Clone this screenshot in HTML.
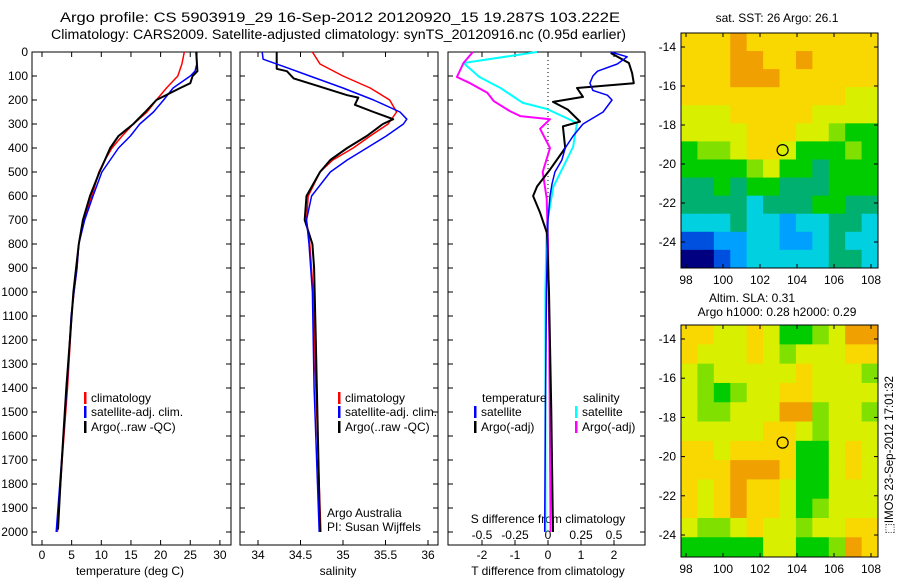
<!DOCTYPE html>
<html><head><meta charset="utf-8"><style>
body{margin:0;background:#fff}
svg{display:block;font-family:"Liberation Sans",sans-serif;font-size:12px}
</style></head><body>
<svg id="c" width="900" height="580" xmlns="http://www.w3.org/2000/svg">
<rect width="900" height="580" fill="#fff"/>
<text x="60" y="22" font-size="13.5" textLength="560" lengthAdjust="spacingAndGlyphs">Argo profile: CS 5903919_29 16-Sep-2012 20120920_15 19.287S 103.222E</text>
<text x="51" y="39" font-size="13.5" textLength="575" lengthAdjust="spacingAndGlyphs">Climatology: CARS2009. Satellite-adjusted climatology: synTS_20120916.nc (0.95d earlier)</text>
<text x="130" y="575" text-anchor="middle">temperature (deg C)</text>
<text x="338" y="575" text-anchor="middle">salinity</text>
<text x="548" y="575" text-anchor="middle">T difference from climatology</text>
<text x="548" y="523" text-anchor="middle">S difference from climatology</text>
<text x="327" y="517">Argo Australia</text>
<text x="327" y="531">PI: Susan Wijffels</text>
<text x="777" y="22" text-anchor="middle">sat. SST: 26 Argo: 26.1</text>
<text x="752" y="302" text-anchor="middle">Altim. SLA: 0.31</text>
<text x="777" y="316" text-anchor="middle">Argo h1000: 0.28 h2000: 0.29</text>
<text transform="translate(893,455) rotate(-90)" text-anchor="middle" font-size="11.5">⬚IMOS 23-Sep-2012 17:01:32</text>
<g id="plots"></g>
</svg>
<script>
// ---- profile data (depth in dbar) ----
const tempClimDepth=[0,50,100,150,200,250,300,350,400,450,500,600,700,800,900,1000,1100,1400,1700,2000];
const tempClim=[24.0,23.6,22.9,21.0,19.3,17.7,15.4,13.5,11.8,10.6,9.6,8.4,7.1,6.2,5.9,5.4,5.0,4.3,3.4,2.6];
const tempSatDepth=[0,50,80,100,150,200,250,300,350,400,450,500,600,700,800,900,1000,1100,1400,1700,2000];
const tempSat=[26.1,26.1,25.8,25.0,22.1,20.5,18.8,16.5,14.9,12.9,11.5,10.1,8.6,7.2,6.2,5.9,5.4,4.9,4.2,3.3,2.4];
const tempArgoDepth=[0,80,100,130,150,200,250,300,350,400,450,500,600,700,800,1000,1200,1400,1600,1800,1990];
const tempArgo=[26.0,26.2,25.4,25.0,23.3,19.3,17.4,15.4,12.9,11.5,10.6,9.7,8.1,6.9,6.2,5.3,4.7,4.1,3.6,3.1,2.7];

const salClimDepth=[0,50,100,150,200,250,300,350,400,450,500,600,700,800,1000,1400,2000];
const salClim=[34.64,34.73,35.0,35.32,35.55,35.63,35.53,35.32,35.12,34.88,34.73,34.59,34.57,34.61,34.65,34.68,34.74];
const salSatDepth=[0,30,60,100,150,200,250,280,300,350,400,450,500,600,700,800,1000,1400,2000];
const salSat=[34.05,34.06,34.3,34.61,35.0,35.36,35.67,35.75,35.71,35.51,35.28,35.05,34.85,34.63,34.57,34.6,34.64,34.66,34.72];
const salArgoDepth=[0,70,80,110,140,180,190,220,250,280,300,350,400,450,500,600,700,800,900,1200,2000];
const salArgo=[34.22,34.22,34.34,34.42,34.69,35.05,35.18,35.14,35.36,35.59,35.47,35.28,35.05,34.85,34.73,34.57,34.55,34.64,34.66,34.68,34.73];

const dTSatDepth=[0,20,50,80,100,130,160,180,200,250,300,350,400,450,500,550,600,700,1000,1500,2000];
const dTSat=[1.9,2.4,2.1,1.5,1.36,1.27,1.36,1.8,1.94,1.67,1.06,0.76,0.52,0.42,0.21,0.12,0.06,0.0,-0.05,-0.08,-0.1];
const dTArgoDepth=[4,46,88,130,150,187,208,240,290,310,400,490,560,600,670,755,1000,1500,2000];
const dTArgo=[1.9,2.45,2.55,2.6,0.88,1.06,0.15,0.6,0.97,0.45,0.52,0.06,-0.33,-0.45,-0.24,-0.03,0.03,0.1,0.15];
const dSSatDepth=[0,46,104,150,212,237,296,395,562,720,1000,2000];
const dSSat=[-0.083,-0.64,-0.52,-0.36,-0.19,-0.01,0.22,0.19,0.04,-0.01,-0.02,-0.02];
const dSArgoDepth=[0,46,104,130,170,205,246,267,280,320,400,500,610,800,1200,2000];
const dSArgo=[-0.57,-0.64,-0.69,-0.59,-0.46,-0.41,-0.29,-0.21,0.015,-0.06,0.015,-0.04,-0.01,0.0,0.01,0.02];

const depthTicks=[0,100,200,300,400,500,600,700,800,900,1000,1100,1200,1300,1400,1500,1600,1700,1800,1900,2000];
const tempTicks=[0,5,10,15,20,25,30];
const salTicks=[34,34.5,35,35.5,36];
const salTickLabels=["34","34.5","35","35.5","36"];
const dTTicks=[-2,-1,0,1,2];
const dSTicks=[-0.5,-0.25,0,0.25,0.5];
const dSTickLabels=["-0.5","-0.25","0","0.25","0.5"];

// ---- map data (levels 0..10) ----
const mapLevelColors=["#000080","#0050e0","#00a0ff","#00d0e0","#00b070","#00cc00","#80e000","#d8f000","#f8d800","#f0a000","#e07000"];
const sstGrid=[
[8,8,8,9,8,8,8,8,8,8,8,8],
[8,8,8,9,9,8,8,9,8,8,8,8],
[8,8,8,9,9,9,8,8,8,8,8,8],
[8,8,8,8,8,8,8,8,8,8,7,7],
[7,7,7,8,8,8,8,8,7,7,7,7],
[7,7,7,7,8,8,8,7,7,6,5,5],
[5,6,6,7,8,8,7,5,5,5,6,5],
[5,5,5,5,6,7,5,5,4,5,5,5],
[4,4,5,4,5,5,4,4,4,5,5,5],
[4,4,4,4,3,4,4,4,5,5,4,4],
[3,3,3,4,3,3,2,3,3,4,4,3],
[1,1,2,2,3,3,2,2,3,4,3,3],
[0,0,1,2,3,3,3,3,3,4,4,3]];
const slaGrid=[
[8,8,7,7,8,7,5,5,6,7,9,9],
[8,7,7,7,8,7,6,7,7,7,8,8],
[7,6,7,7,7,7,7,8,7,7,7,6],
[7,6,5,6,7,7,8,8,7,7,7,7],
[7,6,6,7,7,7,9,9,6,7,7,6],
[7,7,7,7,7,8,8,7,6,7,7,7],
[8,8,7,8,8,8,8,5,5,7,8,7],
[8,8,8,9,9,9,8,5,5,7,8,7],
[8,7,8,9,8,8,7,5,5,7,7,7],
[8,7,8,9,8,8,7,5,6,7,7,7],
[7,6,6,7,8,7,7,6,7,7,8,8],
[5,5,5,5,5,7,7,5,5,6,9,8]];
const lonTicks=[98,100,102,104,106,108];
const latTicks=[-14,-16,-18,-20,-22,-24];
const argoLon=[103.222];
const argoLat=[-19.287];

// ---- helpers ----
const NS="http://www.w3.org/2000/svg";
const G=document.getElementById('plots');
function mk(tag,attrs,parent){const e=document.createElementNS(NS,tag);for(const k in attrs)e.setAttribute(k,attrs[k]);(parent||G).appendChild(e);return e;}
const yTop=52,pxPer100=24;
const yD=d=>yTop+d*pxPer100/100;
const xTemp=t=>42+t*5.93;
const xSal=s=>258+(s-34)*85;
const xDT=v=>548+v*33;
const xDS=v=>548+v*132;
const panels=[{x0:32,x1:231},{x0:240,x1:438},{x0:448,x1:645}];

function line(depths,vals,xf,color,w,name){
  const pts=depths.map((d,i)=>xf(vals[i]).toFixed(1)+","+yD(d).toFixed(1)).join(" ");
  const p=mk('polyline',{points:pts,fill:'none',stroke:color,'stroke-width':w,'stroke-linejoin':'round'});
  
  
}

panels.forEach((p,pi)=>{
  const r=mk('rect',{x:p.x0,y:yTop,width:p.x1-p.x0,height:545-yTop,fill:'none',stroke:'#000','stroke-width':1});
  
  
  depthTicks.forEach(d=>{
    mk('line',{x1:p.x0,x2:p.x0+5,y1:yD(d),y2:yD(d),stroke:'#000'});
    mk('line',{x1:p.x1,x2:p.x1-5,y1:yD(d),y2:yD(d),stroke:'#000'});
  });
});
depthTicks.forEach(d=>{
  const t=mk('text',{x:28,y:yD(d)+4,'text-anchor':'end'});t.textContent=d;
  
  
});
function xTicks(ticks,labels,xf,y,topTicks){
  ticks.forEach((v,i)=>{
    const x=xf(v);
    mk('line',{x1:x,x2:x,y1:545,y2:540,stroke:'#000'});
    if(topTicks) mk('line',{x1:x,x2:x,y1:yTop,y2:yTop+5,stroke:'#000'});
    const t=mk('text',{x:x,y:y,'text-anchor':'middle'});t.textContent=labels[i];
    
    
  });
}
xTicks(tempTicks,tempTicks.map(String),xTemp,559,true);
xTicks(salTicks,salTickLabels,xSal,559,true);
xTicks(dTTicks,dTTicks.map(String),xDT,559,true);
dSTicks.forEach((v,i)=>{
  const t=mk('text',{x:xDS(v),y:539,'text-anchor':'middle'});t.textContent=dSTickLabels[i];
  
  
});
mk('line',{x1:xDT(0),x2:xDT(0),y1:yTop,y2:200,stroke:'#000','stroke-dasharray':'1,3'});

line(tempClimDepth,tempClim,xTemp,'#ff0000',1.5,'temp-climatology-line');
line(tempSatDepth,tempSat,xTemp,'#0000ff',1.5,'temp-satellite-line');
line(tempArgoDepth,tempArgo,xTemp,'#000',2,'temp-argo-line');
line(salClimDepth,salClim,xSal,'#ff0000',1.5,'sal-climatology-line');
line(salArgoDepth,salArgo,xSal,'#000',2,'sal-argo-line');
line(salSatDepth,salSat,xSal,'#0000ff',1.5,'sal-satellite-line');
line(dSSatDepth,dSSat,xDS,'#00ffff',2,'sdiff-satellite-line');
line(dSArgoDepth,dSArgo,xDS,'#ff00ff',2,'sdiff-argo-line');
line(dTArgoDepth,dTArgo,xDT,'#000',2,'tdiff-argo-line');
line(dTSatDepth,dTSat,xDT,'#0000ff',1.5,'tdiff-satellite-line');

function legend(x,y,color,label,name){
  mk('rect',{x:x,y:y-10,width:2.5,height:12,fill:color});
  const t=mk('text',{x:x+7,y:y});t.textContent=label;
  
  
}
legend(84,402,'#ff0000','climatology','legend-climatology');
legend(84,416,'#0000ff','satellite-adj. clim.','legend-satellite-adj');
legend(84,431,'#000','Argo(..raw -QC)','legend-argo');
legend(338,402,'#ff0000','climatology','legend-climatology-2');
legend(338,416,'#0000ff','satellite-adj. clim.','legend-satellite-adj-2');
legend(338,431,'#000','Argo(..raw -QC)','legend-argo-2');
{const t=mk('text',{x:482,y:402});t.textContent='temperature';}
{const t=mk('text',{x:583,y:402});t.textContent='salinity';}
legend(474,416,'#0000ff','satellite','legend-t-satellite');
legend(474,431,'#000','Argo(-adj)','legend-t-argo');
legend(575,416,'#00ffff','satellite','legend-s-satellite');
legend(575,431,'#ff00ff','Argo(-adj)','legend-s-argo');

function drawMap(grid,x0,x1,y0,y1,lon0,lon1,lat0,lat1,latRef,latPx,name){
  const xL=lon=>686+(lon-98)*18.5;
  const yL=lat=>latRef+(-14-lat)*latPx;
  const rows=grid.length,cols=grid[0].length;
  const cw=(lon1-lon0)/cols, ch=(lat0-lat1)/rows;
  grid.forEach((row,r)=>row.forEach((v,c)=>{
    const xa=xL(lon0+c*cw), xb=xL(lon0+(c+1)*cw);
    const ya=yL(lat0-r*ch), yb=yL(lat0-(r+1)*ch);
    const e=mk('rect',{x:xa,y:ya,width:xb-xa+0.5,height:yb-ya+0.5,fill:mapLevelColors[v]});
    
    
  }));
  const f=mk('rect',{x:x0,y:y0,width:x1-x0,height:y1-y0,fill:'none',stroke:'#000'});
  
  
  lonTicks.forEach(l=>{
    const x=xL(l);
    mk('line',{x1:x,x2:x,y1:y1,y2:y1-4,stroke:'#000'});
    mk('line',{x1:x,x2:x,y1:y0,y2:y0+4,stroke:'#000'});
    const t=mk('text',{x:x,y:y1+16,'text-anchor':'middle'});t.textContent=l;
    
    
  });
  latTicks.forEach(l=>{
    const y=yL(l);
    mk('line',{x1:x0,x2:x0+4,y1:y,y2:y,stroke:'#000'});
    mk('line',{x1:x1,x2:x1-4,y1:y,y2:y,stroke:'#000'});
    const t=mk('text',{x:x0-5,y:y+4,'text-anchor':'end'});t.textContent=l;
    
    
  });
  const c=mk('circle',{cx:xL(argoLon[0]),cy:yL(argoLat[0]),r:5.5,fill:'none',stroke:'#000','stroke-width':1.2});
  
  
}
drawMap(sstGrid,681,878,33,268,97.73,108.38,-13.28,-25.33,47,19.5,'sst-map');
drawMap(slaGrid,681,878,325,557,97.73,108.38,-13.29,-25.1,339,19.6,'sla-map');
</script>
</body></html>
